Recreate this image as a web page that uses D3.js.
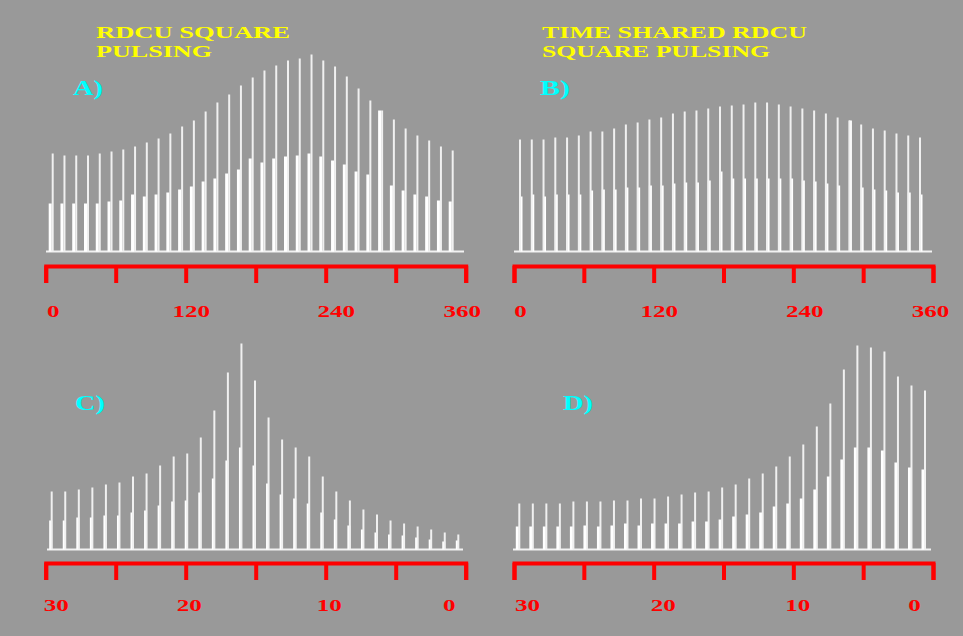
<!DOCTYPE html>
<html><head><meta charset="utf-8">
<script src="https://cdn.jsdelivr.net/npm/d3@7"></script>
<style>html,body{margin:0;padding:0;background:#999999;}svg{display:block;}</style>
</head><body>
<script>
// ---- data ----
const titleA = ["RDCU SQUARE", "PULSING"];
const titleB = ["TIME SHARED RDCU", "SQUARE PULSING"];
const panelLabels = ["A)", "B)", "C)", "D)"];
const angleTicks = [0, 60, 120, 180, 240, 300, 360];
const angleLabels = [0, 120, 240, 360];
const timeTicks = [30, 25, 20, 15, 10, 5, 0];
const timeLabels = [30, 20, 10, 0];

const aTall  = [98, 96, 96, 96, 98, 100, 102, 105, 109, 113, 118, 125, 131, 140, 149, 157, 166, 174, 181, 186, 191, 193, 197, 191, 185, 175, 163, 151, 141, 132, 123, 116, 111, 105, 101];
const aShort = [48, 48, 48, 48, 48, 50, 51, 57, 55, 57, 59, 62, 65, 70, 73, 78, 82, 93, 89, 93, 95, 96, 98, 95, 91, 87, 80, 77, 141, 66, 61, 57, 55, 51, 50];
const bTall  = [112, 112, 112, 114, 114, 116, 120, 120, 123, 127, 129, 132, 134, 138, 140, 141, 143, 145, 146, 147, 149, 149, 147, 145, 143, 141, 138, 134, 131, 127, 123, 121, 118, 116, 114];
const bShort = [55, 57, 55, 57, 57, 57, 61, 62, 62, 64, 64, 66, 66, 68, 69, 69, 71, 80, 73, 73, 73, 73, 73, 73, 71, 70, 68, 66, 131, 64, 62, 61, 59, 59, 57];
const cTall  = [58, 58, 60, 62, 65, 67, 73, 76, 84, 93, 96, 112, 139, 177, 206, 169, 132, 110, 102, 93, 73, 58, 49, 40, 35, 29, 26, 23, 20, 17, 15];
const cShort = [29, 29, 32, 32, 34, 34, 37, 39, 44, 48, 49, 57, 71, 89, 102, 84, 66, 55, 51, 46, 37, 30, 24, 20, 17, 15, 14, 12, 10, 8, 9];
const dTall  = [46, 46, 46, 46, 48, 48, 48, 49, 49, 51, 51, 53, 55, 57, 58, 62, 65, 71, 76, 83, 93, 105, 123, 146, 180, 204, 202, 198, 173, 164, 159];
const dShort = [23, 23, 23, 23, 23, 24, 23, 24, 26, 24, 26, 26, 26, 28, 28, 30, 33, 35, 37, 43, 46, 51, 60, 73, 90, 102, 102, 99, 87, 82, 80];

// ---- layout ----
const W = 963, H = 636;
const svg = d3.select("body").append("svg").attr("width", W).attr("height", H);
svg.append("rect").attr("width", W).attr("height", H).attr("fill", "#999999");

const RED = "#ff0000", CYAN = "#00ffff", YEL = "#ffff00";
const serif = "'Liberation Serif','DejaVu Serif',serif";

const panels = [
  {tall: aTall, short: aShort, px0: 52.7, px1: 452.7, base: 251.5, bx0: 46, bx1: 464, ax0: 45.7, ax1: 465.7, axY: 266, ly0: 51,
   domain: [0, 360], ticks: angleTicks, labels: angleLabels, lab: panelLabels[0], lx: 73, ly: 95, off: -2.5, nud: [7, 0, 5, 0, 10, 0, -4]},
  {tall: bTall, short: bShort, px0: 520, px1: 920, base: 251.5, bx0: 514, bx1: 932, ax0: 514, ax1: 933, axY: 266, ly0: 51,
   domain: [0, 360], ticks: angleTicks, labels: angleLabels, lab: panelLabels[1], lx: 540, ly: 95, off: 1, nud: [6, 0, 5, 0, 11, 0, -3]},
  {tall: cTall, short: cShort, px0: 51.7, px1: 458.3, base: 549.5, bx0: 47, bx1: 463, ax0: 45.7, ax1: 465.7, axY: 563, ly0: 48,
   domain: [30, 0], ticks: timeTicks, labels: timeLabels, lab: panelLabels[2], lx: 75, ly: 410, off: -1, nud: [10, 0, 3, 0, 3, 0, -17]},
  {tall: dTall, short: dShort, px0: 519.3, px1: 925, base: 549.5, bx0: 513, bx1: 931, ax0: 514, ax1: 933, axY: 563, ly0: 48,
   domain: [30, 0], ticks: timeTicks, labels: timeLabels, lab: panelLabels[3], lx: 563, ly: 410, off: -2, nud: [13, 0, 9, 0, 4, 0, -19]}
];

panels.forEach(p => {
  const g = svg.append("g");
  const n = p.tall.length;
  const xi = d3.scaleLinear().domain([0, n - 1]).range([p.px0, p.px1]);
  const y = d3.scaleLinear().domain([0, 200]).range([p.base, p.base - 200]);

  // baseline
  g.append("line").attr("x1", p.bx0).attr("x2", p.bx1).attr("y1", p.base).attr("y2", p.base)
    .attr("stroke", "#f2f2f2").attr("stroke-width", 2);

  // short (thick) pulses
  g.selectAll("rect.s").data(p.short).join("rect").attr("class", "s")
    .attr("x", (d, i) => xi(i) + p.off - 1.5).attr("width", 3)
    .attr("y", d => y(d)).attr("height", d => y(0) - y(d))
    .attr("fill", "#ffffff");
  // tall (thin) pulses
  g.selectAll("line.t").data(p.tall).join("line").attr("class", "t")
    .attr("x1", (d, i) => xi(i)).attr("x2", (d, i) => xi(i))
    .attr("y1", y(0)).attr("y2", d => y(d))
    .attr("stroke", "#f0f0f0").attr("stroke-width", 2);

  // red axis
  const xa = d3.scaleLinear().domain(p.domain).range([p.ax0, p.ax1]);
  const axis = d3.axisBottom(xa).tickValues(p.ticks).tickSize(17)
    .tickFormat(d => p.labels.includes(d) ? String(d) : "");
  const ag = g.append("g").attr("transform", `translate(0,${p.axY})`).call(axis);
  ag.select(".domain").attr("stroke", RED).attr("stroke-width", 4).attr("fill", "none");
  ag.selectAll(".tick line").attr("stroke", RED).attr("stroke-width", 4);
  ag.selectAll(".tick text")
    .attr("fill", RED).attr("font-family", serif).attr("font-weight", "bold").attr("font-size", 17)
    .attr("y", p.ly0).attr("dy", null)
    .attr("x", (d, i) => p.nud[i])
    .attr("textLength", d => String(d).length * 12.5).attr("lengthAdjust", "spacingAndGlyphs");

  // panel label
  g.append("text").attr("x", p.lx).attr("y", p.ly).text(p.lab)
    .attr("fill", CYAN).attr("font-family", serif).attr("font-weight", "bold").attr("font-size", 22)
    .attr("textLength", 30).attr("lengthAdjust", "spacingAndGlyphs");
});

// titles
function title(lines, x, widths) {
  lines.forEach((t, i) => {
    svg.append("text").attr("x", x).attr("y", 38 + i * 19).text(t)
      .attr("fill", YEL).attr("font-family", serif).attr("font-weight", "bold").attr("font-size", 16)
      .attr("textLength", widths[i]).attr("lengthAdjust", "spacingAndGlyphs");
  });
}
title(titleA, 96, [194, 116]);
title(titleB, 542, [265, 228]);
</script>
</body></html>
